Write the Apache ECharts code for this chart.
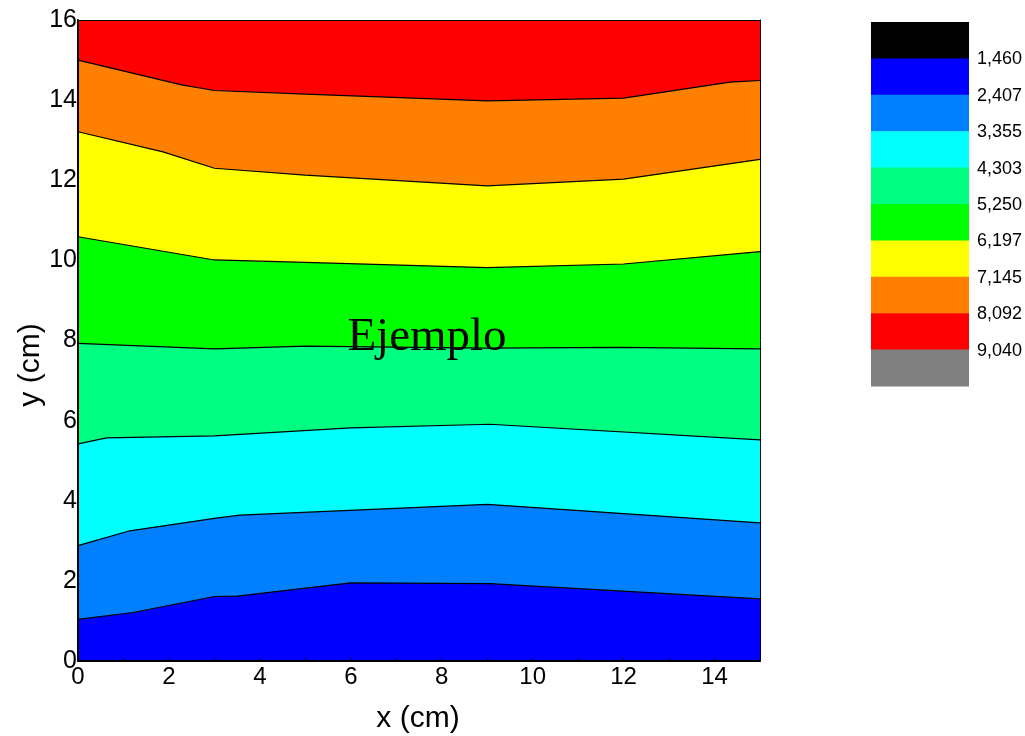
<!DOCTYPE html>
<html>
<head>
<meta charset="utf-8">
<script src="https://cdn.jsdelivr.net/npm/echarts@6/dist/echarts.min.js"></script>
<style>
html,body{margin:0;padding:0;background:#fff;}
#main{width:1025px;height:736px;}
</style>
</head>
<body>
<div id="main"></div>
<script>
// Contour boundary lines, [x (cm), y (cm)] (bottom to top)
const bound1 = [[0,1.04],[1.21,1.21],[3,1.61],[3.5,1.62],[6,1.95],[9.06,1.93],[15,1.55]];
const bound2 = [[0,2.88],[1.14,3.25],[3,3.56],[3.56,3.64],[9,3.91],[15,3.45]];
const bound3 = [[0,5.42],[0.63,5.57],[3,5.62],[6,5.82],[9.06,5.91],[15,5.52]];
const bound4 = [[0,7.93],[3,7.79],[5,7.86],[9,7.81],[11.92,7.83],[15,7.79]];
const bound5 = [[0,10.59],[3,10.01],[5,9.95],[9,9.82],[12,9.91],[15,10.22]];
const bound6 = [[0,13.21],[1.87,12.71],[3,12.30],[5,12.13],[9,11.86],[12,12.03],[15,12.52]];
const bound7 = [[0,15.00],[2.28,14.38],[3,14.24],[5,14.15],[9,13.98],[12,14.05],[14.34,14.45],[15,14.49]];
const topEdge = [[0,16],[15,16]];

// Colour scale (legend), top to bottom, and level labels between boxes
const levelColors = ['#000000','#0000ff','#0080ff','#00ffff','#00ff80','#00ff00','#ffff00','#ff8000','#ff0000','#808080'];
const levelLabels = ['1,460','2,407','3,355','4,303','5,250','6,197','7,145','8,092','9,040'];

const xTicks = [0,2,4,6,8,10,12,14];
const yTicks = [0,2,4,6,8,10,12,14,16];

// Bands: [boundary, fill colour of band under it]
const bands = [
  [topEdge, '#ff0000'],
  [bound7, '#ff8000'],
  [bound6, '#ffff00'],
  [bound5, '#00ff00'],
  [bound4, '#00ff80'],
  [bound3, '#00ffff'],
  [bound2, '#0080ff'],
  [bound1, '#0000ff']
];

const chart = echarts.init(document.getElementById('main'), null, {renderer:'canvas'});
const FONT = 'Liberation Sans, Arial, sans-serif';

const series = bands.map((b, i) => ({
  type: 'line',
  data: b[0],
  symbol: 'none',
  silent: true,
  z: 2 + i,
  lineStyle: {color: '#000', width: i === 0 ? 0 : 1.2},
  areaStyle: {color: b[1], opacity: 1, origin: 'start'},
  animation: false
}));

const graphics = [];
const boxLeft = 871, boxTop = 22, boxW = 98, boxH = 36.4;
levelColors.forEach((c, i) => {
  graphics.push({type:'rect', shape:{x:boxLeft, y:boxTop + i*boxH, width:boxW, height:boxH + 0.5}, style:{fill:c}, silent:true});
});
levelLabels.forEach((t, i) => {
  graphics.push({type:'text', x: 977, y: boxTop + (i+1)*boxH + 1,
    style:{text:t, font:'18px ' + FONT, fill:'#000', textAlign:'left', textVerticalAlign:'middle', align:'left', verticalAlign:'middle'}, silent:true});
});
graphics.push({type:'text', x: 418, y: 719,
  style:{text:'x (cm)', font:'30px ' + FONT, fill:'#000', textAlign:'center', textVerticalAlign:'middle', align:'center', verticalAlign:'middle'}});
graphics.push({type:'text', x: 31, y: 365, rotation: Math.PI/2,
  style:{text:'y (cm)', font:'30px ' + FONT, fill:'#000', textAlign:'center', textVerticalAlign:'middle', align:'center', verticalAlign:'middle'}});
graphics.push({type:'text', x: 427, y: 338, z: 100,
  style:{text:'Ejemplo', font:'47px Liberation Serif, Times New Roman, serif', fill:'#000', textAlign:'center', textVerticalAlign:'middle', align:'center', verticalAlign:'middle'}});

const option = {
  animation: false,
  backgroundColor: '#fff',
  grid: {left: 78, top: 20, right: 265, bottom: 75, containLabel: false},
  xAxis: [
    {type:'value', min: xTicks[0], max: 15, interval: 2, position:'bottom', z: 10,
     axisLine:{show:true, onZero:false, lineStyle:{color:'#000', width:2}},
     axisTick:{show:true, inside:true, length:3, lineStyle:{color:'#000'}},
     minorTick:{show:true, splitNumber:2, length:3, lineStyle:{color:'#000'}},
     splitLine:{show:false},
     axisLabel:{color:'#000', fontSize:24, fontFamily:FONT, margin:4, showMaxLabel:false,
       formatter: v => (xTicks.indexOf(v) >= 0 ? String(v) : '')}},
    {type:'value', min: 0, max: 15, position:'top', z: 10,
     axisLine:{show:true, onZero:false, lineStyle:{color:'#000', width:1}},
     axisTick:{show:false}, axisLabel:{show:false}, splitLine:{show:false}}
  ],
  yAxis: [
    {type:'value', min: yTicks[0], max: 16, interval: 2, position:'left', z: 10,
     axisLine:{show:true, onZero:false, lineStyle:{color:'#000', width:2}},
     axisTick:{show:false},
     splitLine:{show:false},
     axisLabel:{color:'#000', fontSize:25, fontFamily:FONT, margin:1,
       formatter: v => (yTicks.indexOf(v) >= 0 ? String(v) : '')}},
    {type:'value', min: 0, max: 16, position:'right', z: 10,
     axisLine:{show:true, onZero:false, lineStyle:{color:'#000', width:1}},
     axisTick:{show:false}, axisLabel:{show:false}, splitLine:{show:false}}
  ],
  series: series,
  graphic: graphics
};
chart.setOption(option);
</script>
</body>
</html>
